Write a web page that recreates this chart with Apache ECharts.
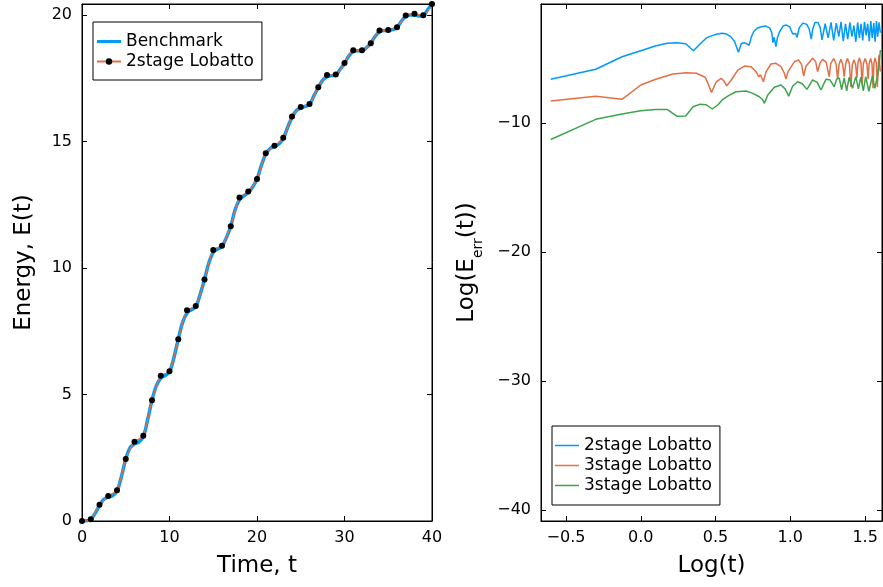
<!DOCTYPE html>
<html>
<head>
<meta charset="utf-8">
<script src="https://cdn.jsdelivr.net/npm/echarts@6/dist/echarts.min.js"></script>
<style>
  html, body { margin: 0; padding: 0; background: #fff; }
  #main { width: 883px; height: 587px; }
</style>
</head>
<body>
<div id="main"></div>
<script>
// ---- left panel: energy vs time ----
var benchT = [0,0.5,1,1.5,2,2.5,3,3.5,4,4.5,5,5.5,6,6.5,7,7.5,8,8.5,9,9.5,10,10.5,11,11.5,12,12.5,13,13.5,14,14.5,15,15.5,16,16.5,17,17.5,18,18.5,19,19.5,20,
  20.5,21,21.5,22,22.5,23,23.5,24,24.5,25,25.5,26,26.5,27,27.5,28,28.5,29,29.5,30,30.5,31,31.5,32,32.5,33,33.5,34,34.5,35,35.5,36,36.5,37,37.5,38,38.5,39,39.5,40];
var benchE = [0,0.01,0.06,0.3,0.62,0.86,0.95,1.0,1.18,1.75,2.45,2.9,3.05,3.12,3.33,4.0,4.77,5.35,5.65,5.75,5.9,6.45,7.18,7.85,8.22,8.35,8.46,8.95,9.54,10.2,10.62,10.75,10.85,11.2,11.65,12.3,12.7,12.85,12.98,13.2,13.51,
  14.05,14.5,14.72,14.8,14.9,15.12,15.55,15.95,16.22,16.32,16.38,16.46,16.8,17.12,17.42,17.56,17.6,17.62,17.85,18.08,18.38,18.55,18.58,18.58,18.7,18.88,19.15,19.34,19.38,19.38,19.42,19.5,19.75,19.95,20.0,20.0,19.96,19.97,20.2,20.43];

var lobT = [0,1,2,3,4,5,6,7,8,9,10,11,12,13,14,15,16,17,18,19,20,21,22,23,24,25,26,27,28,29,30,31,32,33,34,35,36,37,38,39,40];
var lobE = [0,0.07,0.64,0.99,1.22,2.45,3.13,3.37,4.77,5.74,5.92,7.18,8.33,8.50,9.54,10.71,10.88,11.65,12.78,13.02,13.51,14.53,14.83,15.14,15.98,16.36,16.48,17.14,17.62,17.64,18.10,18.60,18.60,18.88,19.38,19.40,19.51,19.98,20.04,19.99,20.43];

// ---- right panel: log error vs log time ----
var logT2 = [-0.602,-0.301,-0.125,0.0,0.097,0.176,0.243,0.301,0.352,0.398,0.439,0.477,0.512,0.544,0.574,0.602,0.628,0.653,0.672,0.690,0.708,0.724,0.740,0.756,0.778,0.800,0.833,0.862,0.876,0.884,0.892,0.898,0.904,0.913,0.929,0.954,0.975,0.996,1.016,1.025,1.036,1.045,1.060,1.085,1.110,1.127,1.140,1.150,1.165,1.185,1.200,1.212,
  1.233,1.253,1.272,1.290,1.307,1.324,1.339,1.354,1.369,1.384,1.398,1.412,1.425,1.438,1.450,1.462,1.473,1.484,1.496,1.507,1.517,1.528,1.538,1.548,1.558,1.567,1.576,1.584,1.593,1.602];
var err2 = [-6.61,-5.83,-4.86,-4.39,-4.03,-3.82,-3.77,-3.85,-4.39,-3.85,-3.40,-3.22,-3.10,-3.04,-3.10,-3.30,-3.70,-4.51,-3.85,-3.77,-3.85,-3.98,-3.30,-2.90,-2.65,-2.55,-2.47,-2.62,-3.00,-3.77,-3.35,-3.40,-4.08,-3.40,-2.90,-2.45,-2.40,-2.55,-3.10,-2.95,-3.05,-3.35,-2.60,-2.25,-2.35,-2.75,-3.50,-2.70,-2.20,-2.20,-2.60,-3.55,
  -2.30,-3.40,-2.20,-3.60,-2.25,-3.30,-2.15,-3.65,-2.30,-3.50,-2.20,-3.30,-2.45,-3.70,-2.20,-3.40,-2.30,-3.60,-2.15,-3.20,-2.30,-3.65,-2.10,-3.40,-2.25,-3.70,-2.10,-3.30,-2.20,-3.00];

var logT3a = [-0.602,-0.301,-0.125,0.0,0.105,0.215,0.305,0.371,0.431,0.449,0.473,0.505,0.538,0.560,0.575,0.605,0.649,0.693,0.738,0.771,0.789,0.800,0.820,0.838,0.871,0.904,0.938,0.960,0.971,0.985,1.027,1.055,1.075,1.089,1.105,1.149,1.170,1.182,1.200,1.216,1.240,1.260,
  1.270,1.290,1.306,1.316,1.326,1.338,1.350,1.360,1.370,1.382,1.395,1.405,1.414,1.426,1.437,1.445,1.452,1.462,1.472,1.480,1.488,1.500,1.512,1.520,1.527,1.537,1.546,1.553,1.559,1.567,1.575,1.582,1.592,1.602];
var err3a = [-8.29,-7.93,-8.16,-7.05,-6.59,-6.20,-6.10,-6.14,-6.45,-6.92,-7.62,-6.80,-6.53,-6.80,-7.11,-6.66,-5.89,-5.58,-5.63,-6.02,-6.41,-6.25,-6.80,-6.02,-5.42,-5.37,-5.63,-6.14,-6.59,-6.00,-5.25,-5.11,-5.45,-6.35,-5.60,-4.98,-5.25,-6.02,-5.30,-5.06,-5.30,-6.41,
  -5.40,-5.00,-5.40,-6.60,-5.45,-5.05,-5.45,-6.40,-5.40,-5.00,-5.40,-7.20,-5.50,-5.10,-5.50,-6.50,-5.35,-4.95,-5.35,-7.00,-5.40,-5.00,-5.40,-6.60,-5.40,-5.00,-5.40,-7.30,-5.35,-4.95,-5.35,-7.20,-4.75,-6.00];

var logT3b = [-0.602,-0.301,-0.125,0.0,0.097,0.176,0.243,0.300,0.350,0.393,0.438,0.478,0.515,0.549,0.593,0.638,0.704,0.749,0.793,0.812,0.827,0.849,0.893,0.938,0.965,0.989,1.016,1.049,1.080,1.111,1.149,1.180,1.205,1.238,1.265,1.293,
  1.310,1.327,1.343,1.360,1.377,1.393,1.415,1.438,1.455,1.471,1.488,1.504,1.525,1.549,1.565,1.580,1.590,1.596,1.602];
var err3b = [-11.27,-9.71,-9.30,-9.05,-8.94,-8.94,-9.48,-9.46,-8.74,-8.55,-8.58,-8.91,-8.60,-8.16,-7.83,-7.57,-7.52,-7.70,-7.96,-8.15,-8.47,-7.83,-7.23,-7.05,-7.35,-7.91,-7.13,-6.80,-6.95,-7.39,-6.66,-6.85,-7.44,-6.61,-6.65,-7.18,
  -6.60,-6.50,-7.40,-6.50,-7.50,-6.45,-7.30,-6.40,-7.35,-6.45,-7.50,-6.40,-7.55,-6.35,-7.30,-6.50,-5.90,-5.20,-4.34];

var seriesLabels = {
  bench: 'Benchmark',
  lob2: '2stage Lobatto',
  err2: '2stage Lobatto',
  err3a: '3stage Lobatto',
  err3b: '3stage Lobatto'
};

function pairs(xs, ys) {
  return xs.map(function (x, i) { return [x, ys[i]]; });
}
function minus(v) {
  return (v < 0 ? '\u2212' : '') + Math.abs(v);
}
function onStep(v, step) {
  var q = v / step;
  return Math.abs(q - Math.round(q)) < 1e-6;
}

var FONT = 'DejaVu Sans';
var BLUE = '#009AFA', RED = '#E36F47', GREEN = '#3EA44E';
var tickStyle = { show: true, inside: true, length: 5, lineStyle: { color: '#000', width: 1 } };
var lineStyle = { show: true, onZero: false, lineStyle: { color: '#000', width: 1 } };
// plain line icons for the legend (the corner dots keep the box 24x8)
var thickLine = 'path://M0,0L0.01,0M0,8L0.01,8M0,2.5L24,2.5L24,5.5L0,5.5Z';
var thinLine = 'path://M0,0L0.01,0M0,8L0.01,8M0,3.25L24,3.25L24,4.75L0,4.75Z';

function mirrorAxis(pos, gridIndex, min, max, interval) {
  var a = {
    gridIndex: gridIndex, type: 'value', position: pos, min: min, max: max,
    axisLine: lineStyle, axisTick: tickStyle, axisLabel: { show: false }, splitLine: { show: false }
  };
  if (interval) a.interval = interval;
  return a;
}

var myChart = echarts.init(document.getElementById('main'), null, { renderer: 'canvas' });

var legendBase = {
  orient: 'vertical', itemWidth: 24, itemHeight: 8, itemGap: 3, padding: [11, 8, 10, 3],
  borderColor: '#000', borderWidth: 1, backgroundColor: '#fff',
  itemStyle: { borderWidth: 0 },
  textStyle: { fontSize: 17, color: '#000', fontFamily: FONT },
  formatter: function (n) { return seriesLabels[n]; }
};

var option = {
  backgroundColor: '#fff',
  animation: false,
  textStyle: { fontFamily: FONT },
  grid: [
    { left: 82, top: 4, width: 350, height: 517, show: true, borderColor: '#000', borderWidth: 1, containLabel: false, outerBoundsMode: 'none' },
    { left: 541, top: 4, width: 341, height: 517, show: true, borderColor: '#000', borderWidth: 1, containLabel: false, outerBoundsMode: 'none' }
  ],
  xAxis: [
    {
      gridIndex: 0, type: 'value', min: 0, max: 40, interval: 10,
      name: 'Time, t', nameLocation: 'middle', nameGap: 34,
      nameTextStyle: { fontSize: 23, color: '#000', fontFamily: FONT },
      axisLine: lineStyle, axisTick: tickStyle, splitLine: { show: false },
      axisLabel: { fontSize: 16, color: '#000', margin: 9, fontFamily: FONT }
    },
    mirrorAxis('top', 0, 0, 40, 10),
    {
      gridIndex: 1, type: 'value', min: -0.667, max: 1.613,
      name: 'Log(t)', nameLocation: 'middle', nameGap: 34,
      nameTextStyle: { fontSize: 23, color: '#000', fontFamily: FONT },
      axisLine: lineStyle, axisTick: tickStyle, splitLine: { show: false },
      axisLabel: {
        fontSize: 16, color: '#000', margin: 9, fontFamily: FONT,
        formatter: function (v) { return onStep(v, 0.5) ? (v < 0 ? '\u2212' : '') + Math.abs(v).toFixed(1) : ''; }
      }
    },
    mirrorAxis('top', 1, -0.667, 1.613)
  ],
  yAxis: [
    {
      gridIndex: 0, type: 'value', min: 0, max: 20.43, interval: 5,
      name: 'Energy, E(t)', nameLocation: 'middle', nameGap: 46,
      nameTextStyle: { fontSize: 23, color: '#000', fontFamily: FONT },
      axisLine: lineStyle, axisTick: tickStyle, splitLine: { show: false },
      axisLabel: {
        fontSize: 16, color: '#000', margin: 10, fontFamily: FONT,
        formatter: function (v) { return onStep(v, 5) ? String(v) : ''; }
      }
    },
    mirrorAxis('right', 0, 0, 20.43, 5),
    {
      gridIndex: 1, type: 'value', min: -40.85, max: -0.77,
      name: 'Log(E{s|err}(t))', nameLocation: 'middle', nameGap: 62,
      nameTextStyle: {
        fontSize: 23, color: '#000', fontFamily: FONT,
        rich: { s: { fontSize: 14, color: '#000', fontFamily: FONT, verticalAlign: 'bottom', padding: [0, 0, -6, 0] } }
      },
      axisLine: lineStyle, axisTick: tickStyle, splitLine: { show: false },
      axisLabel: {
        fontSize: 16, color: '#000', margin: 10, fontFamily: FONT,
        formatter: function (v) { return onStep(v, 10) ? minus(v) : ''; }
      }
    },
    mirrorAxis('right', 1, -40.85, -0.77)
  ],
  legend: [
    Object.assign({}, legendBase, {
      left: 93, top: 22,
      data: [{ name: 'bench', icon: thickLine }, { name: 'lob2' }]
    }),
    Object.assign({}, legendBase, {
      left: 552, top: 426, padding: [11, 8, 11, 3],
      data: [{ name: 'err2', icon: thinLine }, { name: 'err3a', icon: thinLine }, { name: 'err3b', icon: thinLine }]
    })
  ],
  series: [
    {
      name: 'bench', type: 'line', xAxisIndex: 0, yAxisIndex: 0,
      data: pairs(benchT, benchE), smooth: 0.35, symbol: 'none',
      lineStyle: { color: BLUE, width: 3.5 }, itemStyle: { color: BLUE }
    },
    {
      name: 'lob2', type: 'line', xAxisIndex: 0, yAxisIndex: 0,
      data: pairs(lobT, lobE), smooth: 0.3, symbol: 'circle', symbolSize: 6,
      lineStyle: { color: RED, width: 1.2 }, itemStyle: { color: '#000' }
    },
    {
      name: 'err2', type: 'line', xAxisIndex: 2, yAxisIndex: 2,
      data: pairs(logT2, err2), symbol: 'none',
      lineStyle: { color: BLUE, width: 1.5 }, itemStyle: { color: BLUE }
    },
    {
      name: 'err3a', type: 'line', xAxisIndex: 2, yAxisIndex: 2,
      data: pairs(logT3a, err3a), symbol: 'none',
      lineStyle: { color: RED, width: 1.5 }, itemStyle: { color: RED }
    },
    {
      name: 'err3b', type: 'line', xAxisIndex: 2, yAxisIndex: 2,
      data: pairs(logT3b, err3b), symbol: 'none',
      lineStyle: { color: GREEN, width: 1.5 }, itemStyle: { color: GREEN }
    }
  ]
};
myChart.setOption(option);
</script>
</body>
</html>
